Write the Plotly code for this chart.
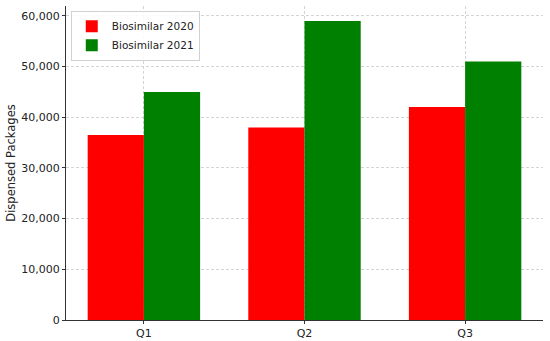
import plotly.graph_objects as go

categories = ["Q1", "Q2", "Q3"]
biosimilar_2020 = [36500, 38000, 42000]
biosimilar_2021 = [45000, 59000, 51000]
y_ticks = [0, 10000, 20000, 30000, 40000, 50000, 60000]

fig = go.Figure()
fig.add_trace(go.Bar(x=[0, 1, 2], y=biosimilar_2020, name="Biosimilar 2020",
                     marker=dict(color="red", line=dict(width=0)), width=0.35, offset=-0.35))
fig.add_trace(go.Bar(x=[0, 1, 2], y=biosimilar_2021, name="Biosimilar 2021",
                     marker=dict(color="green", line=dict(width=0)), width=0.35, offset=0))

grid = dict(showgrid=True, gridcolor="#d4d4d4", griddash="3px,2px", gridwidth=0.8)

fig.update_layout(
    width=550, height=341,
    margin=dict(l=66, r=7, t=6, b=21),
    plot_bgcolor="white", paper_bgcolor="white",
    font=dict(family="DejaVu Sans", size=11, color="#222222"),
    barmode="overlay",
    showlegend=True,
    legend=dict(x=0.01, y=0.985, xanchor="left", yanchor="top",
                bordercolor="#d0d0d0", borderwidth=1, bgcolor="rgba(255,255,255,0.85)",
                font=dict(size=10.5), itemwidth=30, tracegroupgap=0),
    xaxis=dict(range=[-0.485, 2.485], tickvals=[0, 1, 2], ticktext=categories,
               automargin=False, **grid,
               showline=True, linecolor="#333333", linewidth=1,
               ticks="outside", ticklen=3, tickcolor="#333333", zeroline=False,
               tickfont=dict(size=11)),
    yaxis=dict(range=[0, 61950], tickvals=y_ticks, tickformat=",",
               automargin=False,
               title=dict(text="Dispensed Packages", standoff=3, font=dict(size=11.5)),
               **grid,
               showline=True, linecolor="#333333", linewidth=1,
               ticks="outside", ticklen=3, tickcolor="#333333", zeroline=False,
               tickfont=dict(size=11)),
)

fig.write_html("out.html", config={"displayModeBar": False},
               post_script="document.body.style.margin='0';")
